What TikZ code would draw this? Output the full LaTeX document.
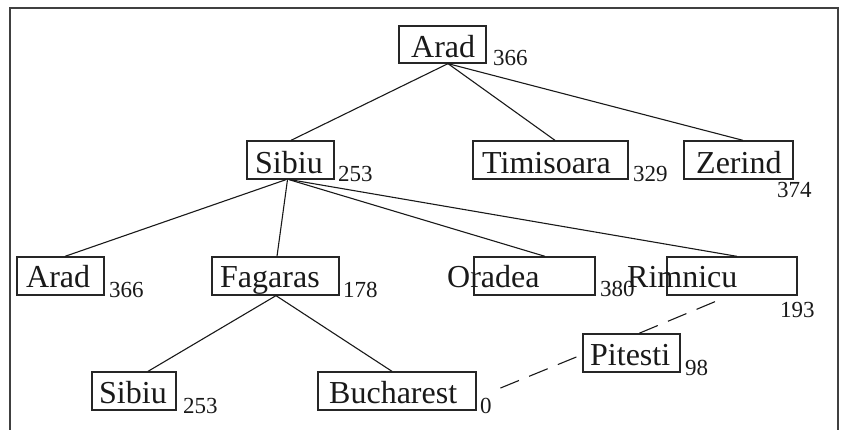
\documentclass[tikz,border=0pt]{standalone}
\usepackage{fontspec}
\setmainfont{Liberation Serif}
\usetikzlibrary{calc}
\tikzset{
  cbox/.style={draw=black!85, line width=1.3pt, rectangle, inner sep=0pt},
  cname/.style={anchor=base west, inner sep=0pt, font=\fontsize{32}{32}\selectfont, text=black!90},
  hval/.style={anchor=base west, inner sep=0pt, font=\fontsize{23}{23}\selectfont, text=black!90},
  edge/.style={draw=black!90, line width=1.1pt},
  dedge/.style={edge, dash pattern=on 20pt off 11pt},
  frame/.style={draw=black!75, line width=1.5pt}
}
\newcommand{\bx}[5]{\node[cbox, minimum width={#4-#2}, minimum height={#5-#3}] (#1) at ({(#2+#4)/2},{(#3+#5)/2}) {};}
\begin{document}
\begin{tikzpicture}[x=1pt,y=-1pt]
\useasboundingbox (0,0) rectangle (846,430);
\draw[frame] (10,431) -- (10,8) -- (838,8) -- (838,431);
% boxes
\bx{A1}{399}{26}{486}{63}
\bx{S1}{247}{141}{334}{179}
\bx{T}{473}{141}{628}{179}
\bx{Z}{684}{141}{793}{179}
\bx{A2}{17}{257}{104}{295}
\bx{F}{212}{257}{339}{295}
\bx{O}{474}{257}{595}{295}
\bx{R}{667}{257}{797}{295}
\bx{S2}{92}{372}{176}{410}
\bx{B}{318}{372}{476}{410}
\bx{P}{583}{334}{680}{372}
% names
\node[cname] (tA1) at (411,58) {Arad};
\node[cname] (tS1) at (255,174) {Sibiu};
\node[cname] (tT) at (482,174) {Timisoara};
\node[cname] (tZ) at (696,174) {Zerind};
\node[cname] (tA2) at (26,288) {Arad};
\node[cname] (tF) at (220,288) {Fagaras};
\node[cname] (tO) at (447,288) {Oradea};
\node[cname] (tR) at (627,288) {Rimnicu};
\node[cname] (tS2) at (99,403) {Sibiu};
\node[cname] (tB) at (329,403) {Bucharest};
\node[cname] (tP) at (590,365) {Pitesti};
% values
\node[hval] (hA1) at (493,66) {366};
\node[hval] (hS1) at (338,182) {253};
\node[hval] (hT) at (633,182) {329};
\node[hval] (hZ) at (777,198) {374};
\node[hval] (hA2) at (109,298) {366};
\node[hval] (hF) at (343,298) {178};
\node[hval] (hO) at (600,297) {380};
\node[hval] (hR) at (780,317) {193};
\node[hval] (hS2) at (183,413) {253};
\node[hval] (hB) at (480,413) {0};
\node[hval] (hP) at (685,375) {98};
% edges
\draw[edge] ($(A1.south)+(5.5,0)$) -- ($(S1.north)+(0.5,0)$);
\draw[edge] ($(A1.south)+(5.5,0)$) -- ($(T.north)+(4.5,0)$);
\draw[edge] ($(A1.south)+(5.5,0)$) -- ($(Z.north)+(4.5,0)$);
\draw[edge] ($(S1.south)+(-4.5,0)$) -- ($(A2.north)+(4.5,0)$);
\draw[edge] ($(S1.south)+(-3,0)$) -- ($(F.north)+(1.5,0)$);
\draw[edge] ($(S1.south)+(-1.5,0)$) -- ($(O.north)+(10.5,0)$);
\draw[edge] ($(S1.south)+(-0.5,0)$) -- ($(R.north)+(5,0)$);
\draw[edge] ($(F.south)+(0.5,0)$) -- ($(S2.north)+(14,0)$);
\draw[edge] ($(F.south)+(0.5,0)$) -- ($(B.north)+(-5,0)$);
\draw[dedge] ($(R.south)+(-17,6)$) -- ($(P.north)+(7.5,0)$);
\draw[dedge] ($(P.west)+(-6,4)$) -- ($(B.east)+(19,-1)$);
\end{tikzpicture}
\end{document}
